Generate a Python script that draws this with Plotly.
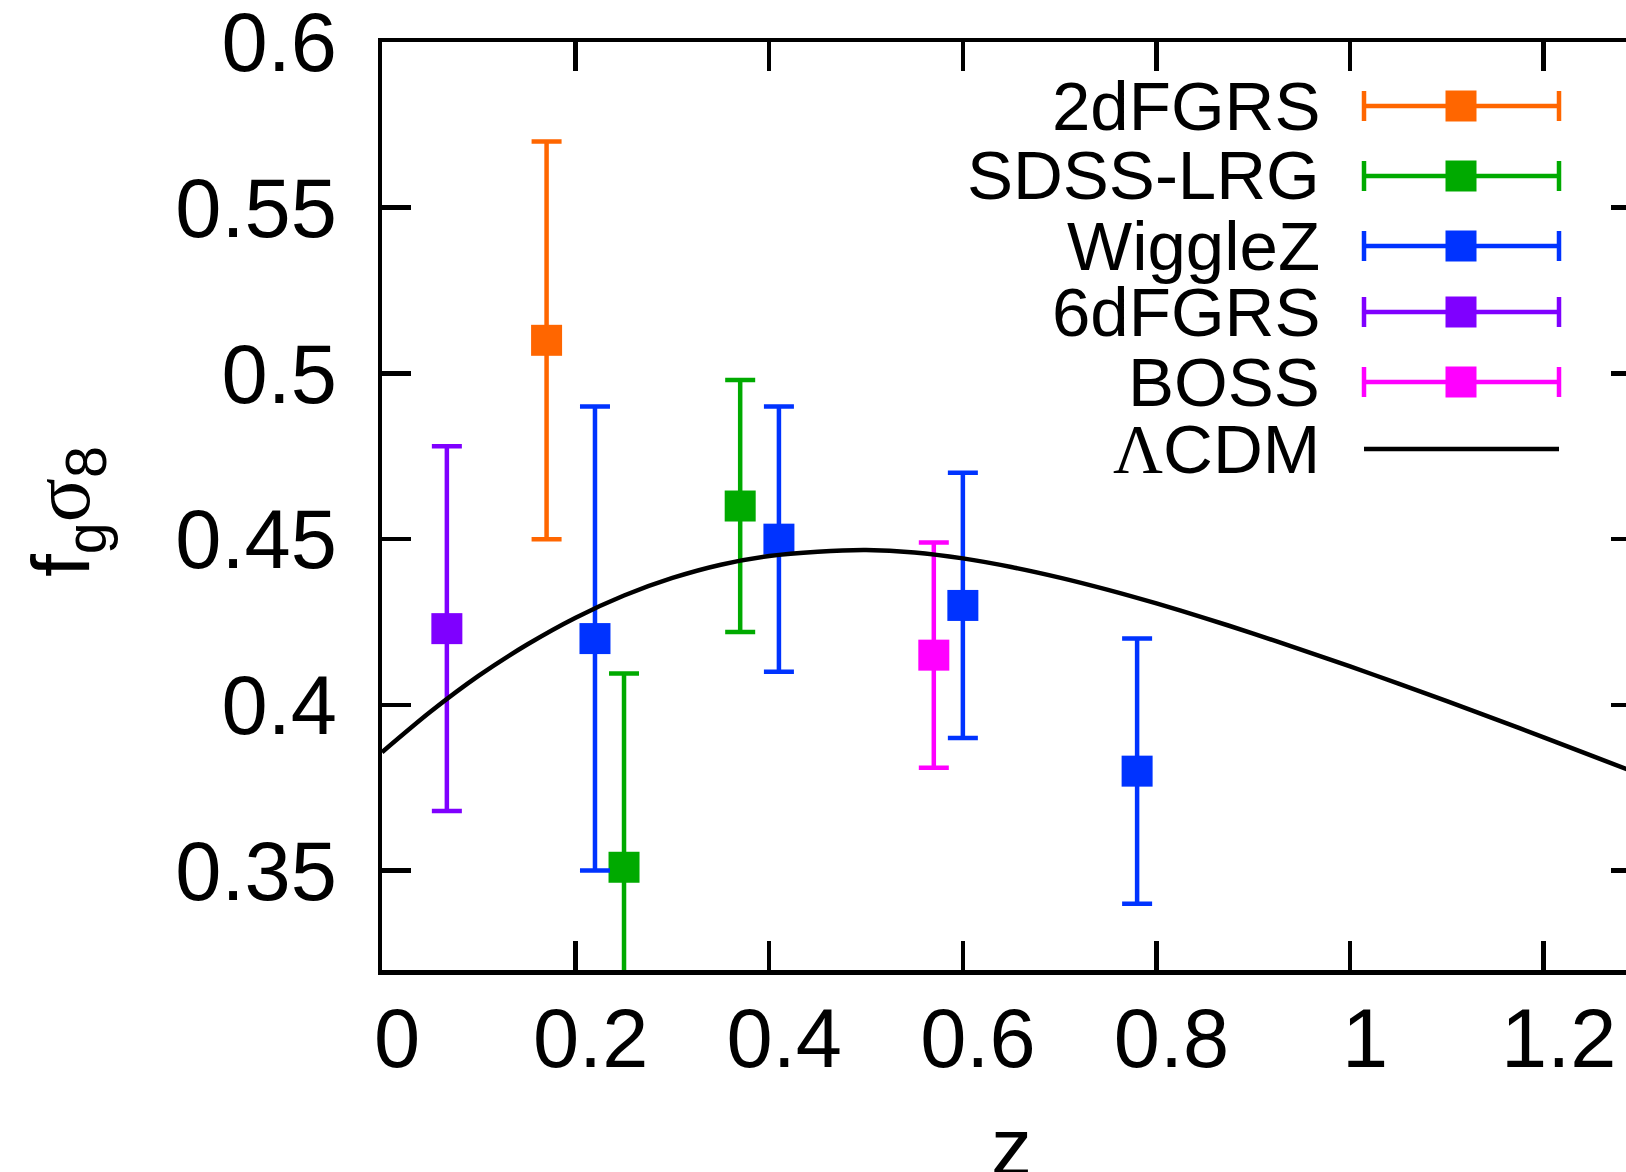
import plotly.graph_objects as go

# ---------------- data ----------------
surveys = ["2dFGRS", "SDSS-LRG", "WiggleZ", "6dFGRS", "BOSS"]
colors = ["#ff6600", "#00aa00", "#0033ff", "#7f00ff", "#ff00ff"]

z_2df = [0.17]
f_2df = [0.51]
e_2df = [0.06]

z_sdss = [0.25, 0.37]
f_sdss = [0.351, 0.460]
e_sdss = [0.0585, 0.038]

z_wig = [0.22, 0.41, 0.60, 0.78]
f_wig = [0.42, 0.45, 0.43, 0.38]
e_wig = [0.07, 0.04, 0.04, 0.04]

z_6df = [0.067]
f_6df = [0.423]
e_6df = [0.055]

z_boss = [0.57]
f_boss = [0.415]
e_boss = [0.034]

# LCDM curve
z_lcdm = [0.00, 0.05, 0.10, 0.15, 0.20, 0.25, 0.30, 0.35, 0.40, 0.45, 0.50,
          0.55, 0.60, 0.65, 0.70, 0.75, 0.80, 0.85, 0.90, 0.95, 1.00, 1.05,
          1.10, 1.15, 1.20, 1.25, 1.30]
f_lcdm = [0.3857, 0.3979, 0.4088, 0.4182, 0.4263, 0.4330, 0.4383, 0.4423,
          0.4449, 0.4462, 0.4467, 0.4460, 0.4442, 0.4416, 0.4384, 0.4347,
          0.4306, 0.4262, 0.4215, 0.4166, 0.4116, 0.4064, 0.4011, 0.3957,
          0.3902, 0.3846, 0.3790]

x_ticks = [0, 0.2, 0.4, 0.6, 0.8, 1.0, 1.2]
x_ticklabels = ["0", "0.2", "0.4", "0.6", "0.8", "1", "1.2"]
y_ticks = [0.35, 0.4, 0.45, 0.5, 0.55, 0.6]
y_ticklabels = ["0.35", "0.4", "0.45", "0.5", "0.55", "0.6"]

# ---------------- layout constants ----------------
W, H = 1626, 1172
L, T = 382, 42
PLOT_BOTTOM = 970
B = H - PLOT_BOTTOM
PW, PH = W - L, H - T - B
XMAX = 1.285
YMIN, YMAX = 0.32, 0.60001
FONT = "Liberation Sans, Arial, Helvetica, sans-serif"
LW = 4.5


def px(xp):
    """page x pixel -> paper fraction"""
    return (xp - L) / PW


def py(yp):
    """page y pixel -> paper fraction"""
    return (PLOT_BOTTOM - yp) / PH


series = [
    (z_2df, f_2df, e_2df),
    (z_sdss, f_sdss, e_sdss),
    (z_wig, f_wig, e_wig),
    (z_6df, f_6df, e_6df),
    (z_boss, f_boss, e_boss),
]

fig = go.Figure()
for name, col, (zz, ff, ee) in zip(surveys, colors, series):
    fig.add_trace(go.Scatter(
        x=zz, y=ff, name=name, mode="markers",
        marker=dict(symbol="square", size=31, color=col, line=dict(width=0)),
        error_y=dict(type="data", array=ee, visible=True, color=col,
                     thickness=LW, width=15),
        showlegend=False,
    ))

fig.add_trace(go.Scatter(
    x=z_lcdm, y=f_lcdm, name="ΛCDM", mode="lines", yaxis="y2",
    line=dict(color="black", width=LW, shape="spline", smoothing=0.8),
    showlegend=False,
))

# ---------------- manual legend ----------------
row_y = [106, 176, 246, 312, 382, 449]
text_right = 1322
s_left, s_right, s_mid = 1364, 1559, 1461
cap = 15
sq = 15.5
shapes = []
annotations = []
labels = surveys + ["<span style='font-family:Liberation Serif'>Λ</span>CDM"]
for i, lab in enumerate(labels):
    yy = row_y[i]
    annotations.append(dict(
        x=px(text_right), y=py(yy), xref="paper", yref="paper",
        text=lab, showarrow=False, xanchor="right", yanchor="middle",
        font=dict(size=69, color="black", family=FONT),
    ))
    col = colors[i] if i < len(surveys) else "black"
    shapes.append(dict(type="line", xref="paper", yref="paper",
                       x0=px(s_left), x1=px(s_right), y0=py(yy), y1=py(yy),
                       line=dict(color=col, width=LW)))
    if i < len(surveys):
        for xc in (s_left, s_right):
            shapes.append(dict(type="line", xref="paper", yref="paper",
                               x0=px(xc), x1=px(xc), y0=py(yy - cap), y1=py(yy + cap),
                               line=dict(color=col, width=LW)))
        shapes.append(dict(type="rect", xref="paper", yref="paper",
                           x0=px(s_mid - sq), x1=px(s_mid + sq),
                           y0=py(yy + sq), y1=py(yy - sq),
                           fillcolor=col, line=dict(width=0)))

# axis titles
annotations.append(dict(
    x=px(1011), y=py(1146), xref="paper", yref="paper", text="z",
    showarrow=False, xanchor="center", yanchor="middle",
    font=dict(size=82, color="black", family=FONT),
))
annotations.append(dict(
    x=px(66), y=py(512), xref="paper", yref="paper",
    text="f<sub>g</sub><span style='font-family:Liberation Serif'>σ</span><sub>8</sub>",
    showarrow=False, xanchor="center", yanchor="middle", textangle=-90,
    font=dict(size=82, color="black", family=FONT),
))

fig.update_layout(
    width=W, height=H,
    margin=dict(l=L, r=0, t=T, b=B, pad=0, autoexpand=False),
    paper_bgcolor="white", plot_bgcolor="white",
    font=dict(family=FONT, color="black", size=84),
    shapes=shapes, annotations=annotations,
    hovermode=False,
    xaxis=dict(range=[0, XMAX], tickvals=x_ticks, ticktext=x_ticklabels,
               showgrid=False, zeroline=False, showline=True, linecolor="black",
               linewidth=LW, ticks="inside", ticklen=29, tickwidth=LW,
               tickcolor="black", mirror="ticks", ticklabelstandoff=0,
               ticklabelshift=15, ticklabeloverflow="allow", automargin=False,
               tickfont=dict(size=83, family=FONT)),
    yaxis=dict(range=[YMIN, YMAX], tickvals=y_ticks, ticktext=y_ticklabels,
               showgrid=False, zeroline=False, showline=True, linecolor="black",
               linewidth=LW, ticks="inside", ticklen=29, tickwidth=LW,
               tickcolor="black", mirror=False, ticklabelstandoff=24,
               ticklabeloverflow="allow", automargin=False,
               tickfont=dict(size=83, family=FONT)),
    yaxis2=dict(range=[YMIN, YMAX], overlaying="y", side="right", anchor="x",
                tickvals=y_ticks, showticklabels=False, showgrid=False,
                zeroline=False, showline=False, ticks="inside", ticklen=15,
                tickwidth=LW, tickcolor="black", automargin=False),
)
try:
    fig.update_xaxes(ticklabelstandoff=-7)
except ValueError:
    pass

fig.write_html(
    "out.html",
    config={"displayModeBar": False, "staticPlot": True},
    post_script=(
        "document.documentElement.style.margin='0';"
        "document.body.style.margin='0';"
        "document.documentElement.style.overflow='hidden';"
        "document.body.style.overflow='hidden';"
    ),
)
